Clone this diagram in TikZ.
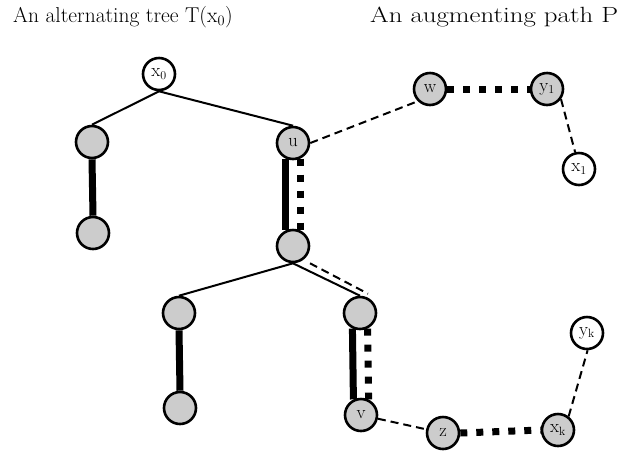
\documentclass[tikz,border=0pt]{standalone}
\usetikzlibrary{backgrounds,calc}
\definecolor{nodegray}{RGB}{204,204,204}
\begin{document}
\begin{tikzpicture}[x=1pt,y=-1pt,
  vtx/.style={circle,draw=black,line width=2.6pt,minimum size=32pt,inner sep=0pt,font=\fontsize{18.5}{18.5}\selectfont},
  gv/.style={vtx,fill=nodegray},
  wv/.style={vtx,fill=white},
  thinedge/.style={line width=2pt},
  thindash/.style={line width=2pt,dash pattern=on 8pt off 5pt},
  thickedge/.style={line width=7pt},
  thickdot/.style={line width=7pt,dash pattern=on 7pt off 9pt},
  title/.style={anchor=base west,inner sep=0pt}]
\useasboundingbox (0,0) rectangle (644,451);
\node[title,font=\fontsize{21.5}{24}\selectfont] (t1) at (13,22) {An alternating tree T(x$_0$)};
\node[title,font=\fontsize{22}{24}\selectfont] (t2) at (370,22) {\scalebox{1.22}[1]{An augmenting path P}};
% tree
\node[wv] (x0) at (159,74) {x$_0$};
\node[gv] (a) at (92,142) {};
\node[gv] (a2) at (93,233) {};
\node[gv] (u) at (293,143) {u};
\node[gv] (b) at (293,246) {};
\node[gv] (c) at (179,313) {};
\node[gv] (c2) at (180,408) {};
\node[gv] (d) at (360,313) {};
\node[gv] (v) at (361,415) {v};
\node[gv] (z) at (443,433) {z};
\node[gv] (xk) at (558,430) {x$_{\mathrm{k}}$};
\node[wv] (yk) at (587,333) {y$_{\mathrm{k}}$};
\node[gv] (w) at (430,89) {w};
\node[gv] (y1) at (547,89) {y$_1$};
\node[wv] (x1) at (579,169) {x$_1$};
\coordinate (bd1) at ($(b.south)+(17,0)$);
\coordinate (bd2) at ($(d.north)+(8,-2)$);
\begin{scope}[on background layer]
\draw[thinedge] (x0.south) -- (a.north);
\draw[thinedge] (x0.south) -- (u.north);
\draw[thinedge] (b.south) -- (c.north);
\draw[thinedge] (b.south) -- (d.north);
\draw[thickedge] (a.south) -- (a2.north);
\draw[thickedge] (c.south) -- (c2.north);
\draw[thickedge] (u.-116) -- (b.116);
\draw[thickedge] (d.-116) -- (v.116);
\end{scope}
\draw[thickdot] (u.-64) -- (b.64);
\draw[thickdot] (d.-64) -- (v.64);
\draw[thickdot] (w.east) -- (y1.west);
\draw[thickdot] (z.east) -- (xk.west);
\draw[thindash] (bd1) -- (bd2);
\draw[thindash] (u.east) -- (w.-135);
\draw[thindash] (y1.-36) -- (x1.103);
\draw[thindash] (v) -- (z);
\draw[thindash] (xk.52) -- (yk.-88);
\end{tikzpicture}
\end{document}
